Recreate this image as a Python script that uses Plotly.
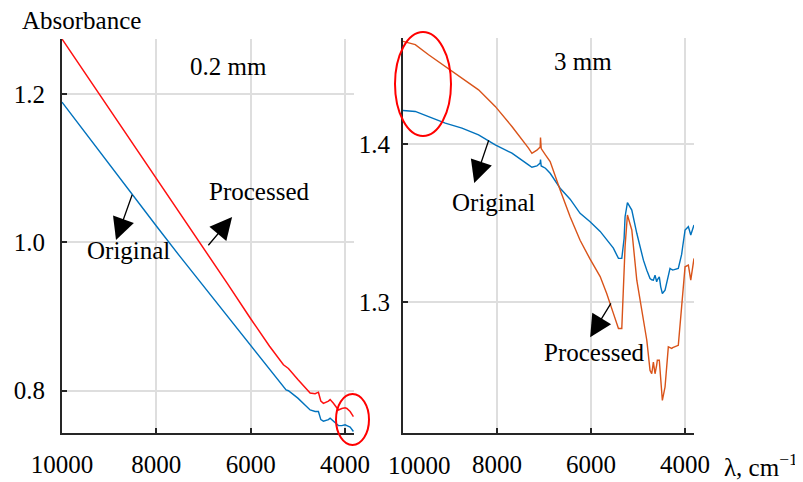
import plotly.graph_objects as go

# ---------------- data: 0.2 mm sample ----------------
wn_a = [10000, 9500, 9000, 8500, 8000, 7500, 7000, 6500, 6000, 5600, 5306, 5250,
        5200, 5000, 4740, 4634, 4564, 4513, 4458, 4352, 4316, 4246, 4140, 4068,
        3998, 3962, 3892, 3822]
orig_a = [1.189, 1.147, 1.105, 1.063, 1.022, 0.981, 0.941, 0.900, 0.860, 0.828, 0.804, 0.801,
          0.800, 0.790, 0.774, 0.772, 0.772, 0.761, 0.759, 0.761, 0.763, 0.759, 0.753, 0.753,
          0.754, 0.753, 0.751, 0.745]
proc_a = [1.274, 1.227, 1.180, 1.133, 1.087, 1.040, 0.993, 0.945, 0.897, 0.860, 0.835, 0.832,
          0.830, 0.815, 0.797, 0.796, 0.798, 0.786, 0.783, 0.786, 0.788, 0.783, 0.774, 0.776,
          0.777, 0.776, 0.772, 0.765]

# ---------------- data: 3 mm sample ----------------
wn_b = [10000, 9739, 9456, 9101, 8746, 8393, 8038, 7683, 7330, 7258, 7152, 7082, 7075, 7060,
        6970, 6870, 6657, 6445, 6233, 6020, 5806, 5667, 5525, 5417, 5346, 5297, 5276, 5226,
        5133, 5027, 4886, 4814, 4745, 4709, 4674, 4639, 4604, 4590, 4548, 4518, 4483, 4426,
        4356, 4320, 4285, 4263, 4144, 4073, 4051, 4000, 3930, 3879, 3810]
orig_b = [1.4211, 1.4205, 1.4173, 1.4131, 1.4100, 1.4057, 1.3994, 1.3941, 1.3867, 1.3852, 1.3860, 1.3878, 1.3900, 1.3860,
          1.3846, 1.3814, 1.3719, 1.3650, 1.3560, 1.3507, 1.3446, 1.3390, 1.3340, 1.3275, 1.3275, 1.3400, 1.3539, 1.3628,
          1.3581, 1.3434, 1.3264, 1.3200, 1.3148, 1.3140, 1.3137, 1.3169, 1.3127, 1.3140, 1.3158, 1.3095, 1.3053, 1.3074,
          1.3180, 1.3212, 1.3205, 1.3201, 1.3212, 1.3300, 1.3349, 1.3455, 1.3476, 1.3423, 1.3486]
proc_b = [1.4649, 1.4628, 1.4564, 1.4490, 1.4417, 1.4342, 1.4237, 1.4110, 1.3973, 1.3940, 1.3960, 1.3980, 1.4040, 1.3970,
          1.3930, 1.3888, 1.3708, 1.3539, 1.3390, 1.3270, 1.3160, 1.3053, 1.2927, 1.2831, 1.2831, 1.3137, 1.3350, 1.3550,
          1.3455, 1.3137, 1.2900, 1.2757, 1.2566, 1.2545, 1.2619, 1.2545, 1.2600, 1.2630, 1.2630, 1.2503, 1.2376, 1.2461,
          1.2715, 1.2710, 1.2705, 1.2710, 1.2725, 1.2970, 1.3050, 1.3222, 1.3233, 1.3137, 1.3275]

x_ticks = [10000, 8000, 6000, 4000]
x_ticktext = ["10000", "8000", "6000", "4000"]
y_ticks_a = [0.8, 1.0, 1.2]
y_ticks_b = [1.3, 1.4]

BLUE = "#0072BD"
RED = "#FF1010"
ORANGE = "#D95319"
FONT = "Liberation Serif"

# the page body has an 8 px margin; size the figure so it fills the window exactly
OFF = 8
FW, FH = 803 - OFF, 482 - OFF


def px(x):
    return (x - OFF) / FW


def py(y):
    return 1 - (y - OFF) / FH


fig = go.Figure()
fig.add_trace(go.Scatter(x=wn_a, y=orig_a, mode="lines", line=dict(color=BLUE, width=1.4),
                         xaxis="x", yaxis="y", showlegend=False))
fig.add_trace(go.Scatter(x=wn_a, y=proc_a, mode="lines", line=dict(color=RED, width=1.5),
                         xaxis="x", yaxis="y", showlegend=False))
fig.add_trace(go.Scatter(x=wn_b, y=orig_b, mode="lines", line=dict(color=BLUE, width=1.4),
                         xaxis="x2", yaxis="y2", showlegend=False))
fig.add_trace(go.Scatter(x=wn_b, y=proc_b, mode="lines", line=dict(color=ORANGE, width=1.4),
                         xaxis="x2", yaxis="y2", showlegend=False))

axis_common = dict(showline=True, linecolor="#262626", linewidth=2, ticks="inside", ticklen=5,
                   tickcolor="#262626", tickwidth=2, showgrid=True, gridcolor="#DEDEDE",
                   gridwidth=1.5, zeroline=False, tickfont=dict(family=FONT, size=25, color="black"),
                   automargin=False, mirror=False)

# right panel: first tick label is drawn nudged right (as in the original) to keep clear of "4000"
right_ticktext = [""] + x_ticktext[1:]

fig.update_layout(
    width=FW, height=FH,
    margin=dict(l=0, r=0, t=0, b=0),
    paper_bgcolor="white", plot_bgcolor="white",
    font=dict(family=FONT, size=25, color="black"),
    xaxis=dict(domain=[px(62), px(354)], range=[10000, 3810], tickvals=x_ticks,
               ticktext=x_ticktext, anchor="y", ticklabelstandoff=8, **axis_common),
    yaxis=dict(domain=[py(433), py(39)], range=[0.743, 1.274], tickvals=y_ticks_a,
               tickformat=".1f", anchor="x", ticklabelstandoff=10, **axis_common),
    xaxis2=dict(domain=[px(403), px(694)], range=[10000, 3810], tickvals=x_ticks,
                ticktext=right_ticktext, anchor="y2", ticklabelstandoff=8, **axis_common),
    yaxis2=dict(domain=[py(433), py(38)], range=[1.217, 1.467], tickvals=y_ticks_b,
                tickformat=".1f", anchor="x2", ticklabelstandoff=6, **axis_common),
)

fig.add_annotation(x=x_ticks[0], xref="x2", y=py(465), yref="paper", xshift=16,
                   text=x_ticktext[0], showarrow=False, xanchor="center", yanchor="middle",
                   font=dict(family=FONT, size=25, color="black"))


def arrow(xref, yref, x, y, ax, ay):
    fig.add_annotation(x=x, y=y, ax=ax, ay=ay, xref=xref, yref=yref, axref=xref, ayref=yref,
                       text="", showarrow=True, arrowhead=2, arrowsize=3.4, arrowwidth=1.3,
                       arrowcolor="black", standoff=0, startstandoff=0)


def label(xref, yref, x, y, t):
    fig.add_annotation(x=x, y=y, xref=xref, yref=yref, text=t, showarrow=False,
                       xanchor="center", yanchor="middle",
                       font=dict(family=FONT, size=25, color="black"))


# left panel
arrow("x", "y", 8855, 1.003, 8501, 1.066)
arrow("x", "y", 6394, 1.034, 6925, 0.994)
label("x", "y", 8600, 0.9886, "Original")
label("x", "y", 5822, 1.068, "Processed")
label("x", "y", 6469, 1.2364, "0.2 mm")
# right panel
arrow("x2", "y2", 8485, 1.3753, 8166, 1.4032)
arrow("x2", "y2", 6019, 1.2776, 5558, 1.300)
label("x2", "y2", 8081, 1.3632, "Original")
label("x2", "y2", 5934, 1.2681, "Processed")
label("x2", "y2", 6168, 1.452, "3 mm")

# axis titles
fig.add_annotation(x=px(81), y=py(20), xref="paper", yref="paper", text="Absorbance",
                   showarrow=False, xanchor="center", yanchor="middle",
                   font=dict(family=FONT, size=25, color="black"))
fig.add_annotation(x=px(800), y=py(465), xref="paper", yref="paper",
                   text="λ, cm<sup>−1</sup>", showarrow=False, xanchor="right", yanchor="middle",
                   font=dict(family=FONT, size=25, color="black"))

# highlight ellipses
fig.add_shape(type="circle", xref="paper", yref="paper", x0=px(336), x1=px(369),
              y0=py(445), y1=py(394), line=dict(color="#FF0000", width=2))
fig.add_shape(type="circle", xref="paper", yref="paper", x0=px(395), x1=px(451),
              y0=py(136), y1=py(32), line=dict(color="#FF0000", width=2))

fig.write_html("out.html")
